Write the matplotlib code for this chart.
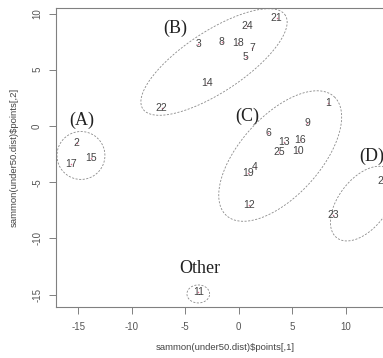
import numpy as np
import matplotlib
matplotlib.use("Agg")
import matplotlib.pyplot as plt

# point labels and their sammon coordinates
labels = [str(i) for i in range(1, 26)]
xs = [8.38, -15.14, -3.79, 1.52, 0.65, 2.77, 1.27, -1.59, 6.41, 5.51,
      -3.78, 0.96, 4.23, -2.99, -13.8, 5.73, -15.66, -0.04, 0.84, 13.5,
      3.55, -7.2, 8.84, 0.75, 3.77]
ys = [2.01, -1.51, 7.29, -3.67, 6.16, -0.65, 6.9, 7.47, 0.30, -2.22,
      -14.8, -7.02, -1.39, 3.79, -2.84, -1.24, -3.38, 7.38, -4.2, -4.89,
      9.63, 1.57, -7.91, 8.89, -2.28]

# group names and label positions
group_names = ["(A)", "(B)", "(C)", "(D)", "Other"]
group_x = [-14.67, -5.94, 0.75, 12.43, -3.62]
group_y = [0.53, 8.68, 0.83, -2.73, -12.65]

# group ellipses: centre x, centre y, semi-major, semi-minor, angle (deg)
ell_cx = [-14.74, -2.31, 3.87, 11.6, -3.78]
ell_cy = [-2.62, 5.69, -2.67, -6.9, -14.93]
ell_a = [2.24, 7.85, 7.3, 3.9, 1.06]
ell_b = [2.13, 2.74, 3.65, 2.25, 0.8]
ell_ang = [0, 31.7, 45.5, 50, 0]

xticks = [-15, -10, -5, 0, 5, 10]
yticks = [-15, -10, -5, 0, 5, 10]

W, H = 383, 358
fig = plt.figure(figsize=(W / 100, H / 100), dpi=100)
left, right, top, bottom = 56, 394, 8, 307
ax = fig.add_axes([left / W, (H - bottom) / H, (right - left) / W, (bottom - top) / H])
ax.set_xlim(-17.07, 14.5)
ax.set_ylim(-16.09, 10.49)

sans = ["Liberation Sans", "DejaVu Sans"]
serif = ["Liberation Serif", "DejaVu Serif"]

# ellipses
t = np.linspace(0, 2 * np.pi, 300)
for cx, cy, a, b, ang in zip(ell_cx, ell_cy, ell_a, ell_b, ell_ang):
    th = np.deg2rad(ang)
    ex = cx + a * np.cos(t) * np.cos(th) - b * np.sin(t) * np.sin(th)
    ey = cy + a * np.cos(t) * np.sin(th) + b * np.sin(t) * np.cos(th)
    ax.plot(ex, ey, linestyle=(0, (2.5, 1.8)), color="#8a8a8a", linewidth=0.6)

# points
ax.plot(xs, ys, linestyle="none", marker="o", markersize=1.1, color="#e07090",
        markeredgewidth=0, zorder=2)
for lab, x, y in zip(labels, xs, ys):
    ax.text(x, y, lab, ha="center", va="center", fontsize=7.5, family=sans,
            color="#444444", zorder=3)

for name, x, y in zip(group_names, group_x, group_y):
    ax.text(x, y, name, ha="center", va="center", fontsize=13, family=serif,
            color="#222222")

for s in ax.spines.values():
    s.set_color("#808080")
    s.set_linewidth(0.8)

ax.set_xticks(xticks)
ax.set_yticks(yticks)
ax.set_xticklabels([str(v) for v in xticks], family=sans, fontsize=7, color="#555555")
ax.set_yticklabels([str(v) for v in yticks], family=sans, fontsize=7, color="#555555",
                   rotation=90, va="center")
ax.tick_params(axis="both", direction="out", length=5, width=0.7, color="#808080")
ax.tick_params(axis="x", pad=6)
ax.tick_params(axis="y", pad=5)

ax.set_xlabel("sammon(under50.dist)$points[,1]", family=sans, fontsize=6.8,
              color="#444444", labelpad=8)
ax.set_ylabel("sammon(under50.dist)$points[,2]", family=sans, fontsize=6.8,
              color="#444444", labelpad=10)

fig.savefig("out.png", dpi=100)
